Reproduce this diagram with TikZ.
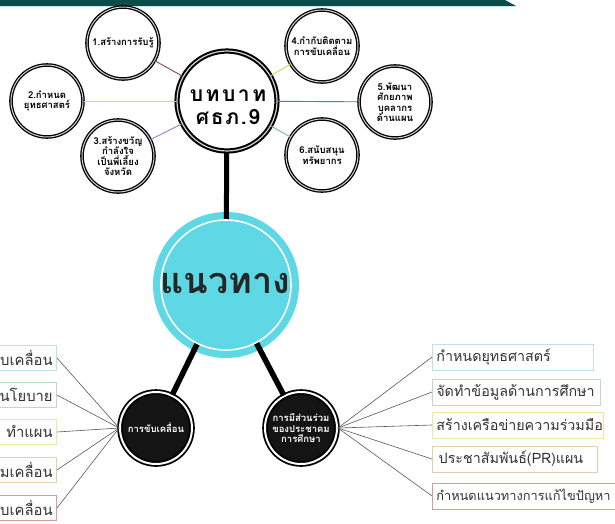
\documentclass[tikz,border=0pt]{standalone}
\usepackage{fontspec}
\newfontfamily\thai[Script=Thai]{Loma}
\definecolor{band}{HTML}{0B4D47}
\definecolor{navcyan}{HTML}{5ED8E5}
\definecolor{bxa}{HTML}{BFE0EA}
\definecolor{bxb}{HTML}{B9DFC0}
\definecolor{bxc}{HTML}{EFE6A0}
\definecolor{bxd}{HTML}{E6CFAE}
\definecolor{bxe}{HTML}{D99A9A}
\definecolor{lna}{HTML}{8B4A4A}
\definecolor{lnb}{HTML}{E0D285}
\definecolor{lnc}{HTML}{A080C0}
\definecolor{lnd}{HTML}{C8D860}
\definecolor{lne}{HTML}{3A8AA0}
\definecolor{lnf}{HTML}{7AB8B0}
\begin{document}
\begin{tikzpicture}[x=1pt,y=-1pt,
  sat/.style={circle, draw=black, line width=1.3pt, double=gray!35, double distance=1pt,
    fill=white, minimum size=72pt, inner sep=0pt, align=center,
    font=\thai\bfseries\fontsize{9.5}{10.5}\selectfont},
  blk/.style={circle, draw=black, line width=1.8pt, double=white, double distance=2pt,
    fill=black!92, minimum size=72pt, inner sep=0pt, align=center, text=white,
    font=\thai\bfseries\fontsize{9.5}{10.5}\selectfont},
  rbox/.style={draw, line width=0.7pt, anchor=west, minimum height=26pt, inner xsep=4pt,
    align=left, font=\thai\fontsize{14.3}{16}\selectfont, text=black!80},
  lbox/.style={draw, line width=0.7pt, anchor=east, minimum height=25pt, inner xsep=4pt,
    text width=100pt, align=right, font=\thai\fontsize{14.8}{16}\selectfont, text=black!80},
  conn/.style={draw=black!65, line width=0.6pt},
  thin/.style={line width=0.9pt},
  thick/.style={line width=5pt, draw=black}
]
\useasboundingbox (0,0) rectangle (615,523);
\clip (0,0) rectangle (615,523);
\fill[white] (0,0) rectangle (615,523);
% top band
\fill[band] (0,0) -- (505,0) -- (516,6) -- (0,6) -- cycle;
\draw[cyan!25, line width=0.8pt] (0,6.6) -- (515,6.6);

% satellites
\node[circle, draw=black, line width=2pt, double=gray!35, double distance=1.2pt, fill=white,
  minimum size=100pt, inner sep=0pt] (cb) at (227,101) {};
\node[align=center, font=\thai\bfseries\fontsize{21}{24}\selectfont] (cbtext) at (228,107)
  {{\addfontfeature{LetterSpace=12}บทบาท}\\[-1pt]{\addfontfeature{LetterSpace=8}ศธภ.9}};
\node[sat] (c1) at (123,43) {1.สร้างการรับรู้};
\node[sat] (c2) at (47,101) {2.กำหนด\\ยุทธศาสตร์};
\node[sat] (c3) at (118,156) {3.สร้างขวัญ\\กำลังใจ\\เป็นพี่เลี้ยง\\จังหวัด};
\node[sat] (c4) at (322,46) {4.กำกับติดตาม\\การขับเคลื่อน};
\node[sat] (c5) at (395,102) {5.พัฒนา\\ศักยภาพ\\บุคลากร\\ด้านแผน};
\node[sat] (c6) at (322,155) {6.สนับสนุน\\ทรัพยากร};
\draw[thin, lna] (cb) -- (c1);
\draw[thin, lnb] (cb) -- (c2);
\draw[thin, lnc] (cb) -- (c3);
\draw[thin, lnd] (cb) -- (c4);
\draw[thin, lne] (cb) -- (c5);
\draw[thin, lnf] (cb) -- (c6);

% central guideline circle
\node[circle, fill=navcyan, minimum size=146pt, inner sep=0pt] (nav) at (226,285) {};
\node[circle, minimum size=130pt, inner sep=0pt] (navring) at (226,285) {};
\node[blk] (l) at (156,428) {การขับเคลื่อน};
\node[blk] (r) at (301,428) {การมีส่วนร่วม\\ของประชาคม\\การศึกษา};
\draw[thick] (cb) -- (navring);
\draw[thick, line width=5.5pt] (navring) -- (l);
\draw[thick, line width=5.5pt] (navring) -- (r);
\draw[white, line width=1.6pt] (226,285) circle (65);
\node[font=\thai\bfseries\fontsize{36}{38}\selectfont, text=black!85] (navtext) at (225,283) {แนวทาง};

% right boxes
\node[rbox, draw=bxa, text width=153pt] (r1) at (432,357) {กำหนดยุทธศาสตร์};
\node[rbox, draw=bxb, text width=160pt] (r2) at (432,392) {จัดทำข้อมูลด้านการศึกษา};
\node[rbox, draw=bxc, text width=163pt] (r3) at (432,425) {สร้างเครือข่ายความร่วมมือ};
\node[rbox, draw=bxd, text width=157pt] (r4) at (432,459) {\,ประชาสัมพันธ์(PR)แผน};
\node[rbox, draw=bxe, text width=180pt, font=\thai\fontsize{12.8}{15}\selectfont] (r5) at (432,496) {กำหนดแนวทางการแก้ไขปัญหา};
\foreach \b in {r1,r2,r3,r4,r5} \draw[conn] (r.east) -- (\b.west);

% left boxes
\node[lbox, draw=bxa] (l1) at (57,358) {ขับเคลื่อน};
\node[lbox, draw=bxb] (l2) at (57,395) {นโยบาย};
\node[lbox, draw=bxc] (l3) at (57,432) {ทำแผน};
\node[lbox, draw=bxd] (l4) at (57,470) {มเคลื่อน};
\node[lbox, draw=bxe] (l5) at (57,508) {ขับเคลื่อน};
\foreach \b in {l1,l2,l3,l4,l5} \draw[conn] (l.west) -- (\b.east);
\end{tikzpicture}
\end{document}
